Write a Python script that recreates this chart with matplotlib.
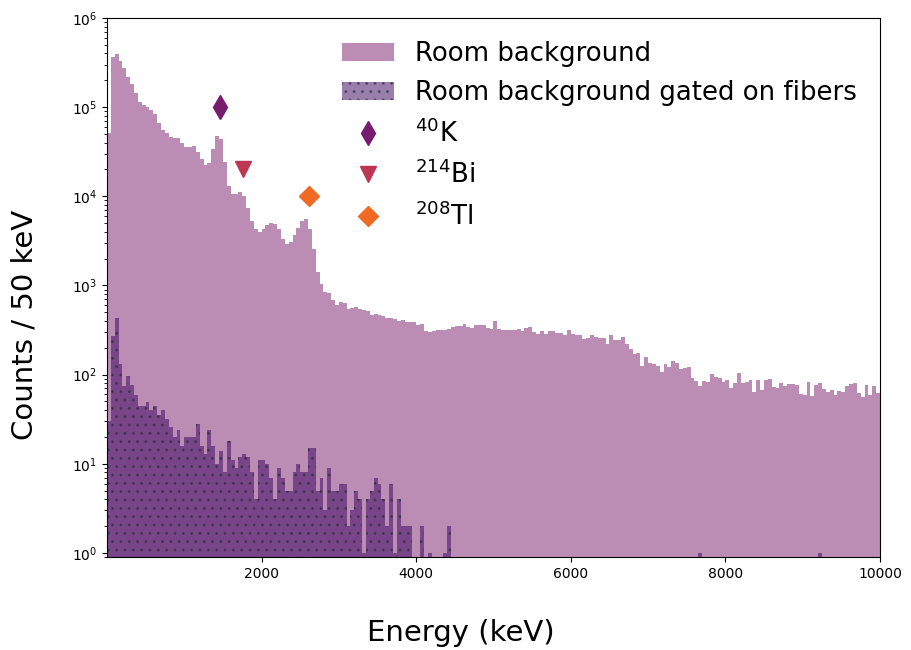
import numpy as np
import matplotlib.pyplot as plt

# 50 keV bins, 0 - 10000 keV
bin_edges = np.arange(0, 10001, 50)
bin_centers = 0.5 * (bin_edges[:-1] + bin_edges[1:])

# room background (counts / 50 keV)
room_counts = [
    51800, 361000, 397000, 332000, 277000, 220000, 183000, 145000, 115000, 107000,
    101000, 93800, 84600, 67000, 56000, 51800, 46700, 45500, 45500, 40000,
    36100, 36100, 37100, 31700, 26500, 22700, 23900, 34300, 48000, 44400,
    24500, 13200, 10500, 10500, 11300, 9950, 7300, 5220, 4250, 3930,
    4250, 4710, 4960, 4830, 4250, 3280, 2890, 3040, 3640, 4360,
    5220, 5500, 4250, 2540, 1400, 1030, 837, 816, 681, 598,
    647, 630, 540, 554, 569, 540, 526, 513, 462, 475,
    462, 451, 428, 428, 417, 396, 407, 386, 386, 386,
    357, 367, 306, 298, 306, 314, 314, 314, 322, 339,
    348, 348, 367, 339, 331, 357, 357, 357, 331, 322,
    396, 322, 314, 314, 314, 314, 322, 306, 331, 339,
    298, 283, 306, 283, 306, 306, 291, 291, 276, 314,
    283, 276, 276, 249, 256, 276, 262, 256, 256, 219,
    276, 243, 243, 262, 219, 192, 169, 174, 124, 157,
    134, 131, 124, 106, 131, 121, 141, 134, 115, 118,
    121, 91, 84, 74, 84, 82, 101, 94, 91, 82,
    87, 70, 80, 104, 80, 82, 87, 64, 87, 67,
    87, 89, 72, 70, 80, 74, 78, 78, 76, 60,
    59, 82, 57, 76, 80, 69, 64, 67, 59, 65,
    64, 74, 78, 80, 62, 56, 76, 59, 74, 62,
]

# room background gated on fibers
gated_counts = [
    30, 269, 428, 131, 74, 96, 76, 59, 45, 45,
    49, 40, 45, 35, 40, 32, 26, 20, 24, 16,
    20, 20, 20, 28, 16, 13, 24, 16, 10, 14,
    8, 18, 11, 9, 12, 13, 12, 8, 4, 11,
    11, 10, 7, 4, 9, 7, 5, 5, 8, 10,
    8, 8, 15, 15, 5, 7, 3, 9, 5, 5,
    6, 6, 2, 3, 5, 4, 1, 4, 5, 7,
    6, 4, 2, 6, 1, 4, 2, 2, 2, 0,
    0, 2, 0, 1, 0, 0, 0, 1, 2, 0,
    0, 0, 0, 0, 0, 0, 0, 0, 0, 0,
    0, 0, 0, 0, 0, 0, 0, 0, 0, 0,
    0, 0, 0, 0, 0, 0, 0, 0, 0, 0,
    0, 0, 0, 0, 0, 0, 0, 0, 0, 0,
    0, 0, 0, 0, 0, 0, 0, 0, 0, 0,
    0, 0, 0, 0, 0, 0, 0, 0, 0, 0,
    0, 0, 0, 1, 0, 0, 0, 0, 0, 0,
    0, 0, 0, 0, 0, 0, 0, 0, 0, 0,
    0, 0, 0, 0, 0, 0, 0, 0, 0, 0,
    0, 0, 0, 0, 1, 0, 0, 0, 0, 0,
    0, 0, 0, 0, 0, 0, 0, 0, 0, 0,
]

# gamma lines (keV) and marker heights
line_labels = [r'$^{40}$K', r'$^{214}$Bi', r'$^{208}$Tl']
line_energy = [1460, 1764, 2614]
line_height = [1e5, 2e4, 1e4]
line_marker = ['d', 'v', 'D']
line_color = ['#781C6D', '#BC3754', '#F06A24']
line_size = [12, 11, 10]

fig = plt.figure(figsize=(9.12, 6.5), dpi=100)
ax = fig.add_axes([0.1173, 0.1431, 0.8476, 0.8292])

_, _, p_room = ax.hist(bin_centers, bins=bin_edges, weights=room_counts,
                       color='#781C6D', alpha=0.5, log=True,
                       label='Room background')
_, _, p_gated = ax.hist(bin_centers, bins=bin_edges, weights=gated_counts,
                        facecolor='#37005D', alpha=0.5, log=True,
                        hatch='..', edgecolor='#2a2a3a', linewidth=0,
                        label='Room background gated on fibers')

handles = [p_room[0], p_gated[0]]
for lab, e, h, m, c, s in zip(line_labels, line_energy, line_height,
                              line_marker, line_color, line_size):
    ln, = ax.plot([e], [h], linestyle='none', marker=m, color=c,
                  markersize=s, label=lab)
    handles.append(ln)

ax.set_xlim(0, 10000)
ax.set_ylim(0.9, 1e6)
ax.set_xticks([2000, 4000, 6000, 8000, 10000])

# axis titles are centred on the figure, not on the axes
fig.supxlabel('Energy (keV)', fontsize=21, x=0.505, y=0.004, va='bottom')
fig.supylabel('Counts / 50 keV', fontsize=21, x=0.012, ha='left')

ax.legend(handles=handles, loc='upper right', frameon=False, fontsize=18.7)

fig.savefig('out.png', dpi=100)
